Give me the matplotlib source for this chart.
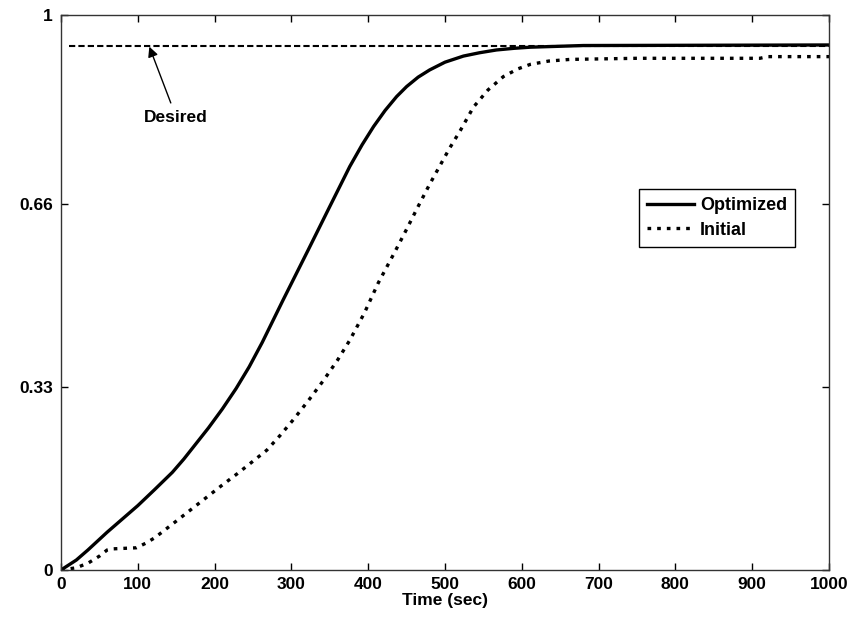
import matplotlib
matplotlib.use("Agg")
import matplotlib.pyplot as plt

plt.rcParams['font.family'] = ['Liberation Sans', 'DejaVu Sans']
plt.rcParams['font.weight'] = 'bold'

# Data
opt_t = [0, 20, 35, 60, 100, 122, 145, 160, 172, 192, 210, 228, 245, 262, 289,
         322, 350, 376, 392, 407, 422, 437, 450, 465, 480, 500, 524, 545, 567,
         590, 611, 680, 1000]
opt_v = [0, 0.018, 0.036, 0.068, 0.116, 0.145, 0.176, 0.200, 0.221, 0.256,
         0.290, 0.327, 0.366, 0.410, 0.486, 0.577, 0.655, 0.727, 0.766, 0.799,
         0.828, 0.853, 0.871, 0.888, 0.901, 0.915, 0.926, 0.932, 0.937, 0.940,
         0.942, 0.945, 0.946]

init_t = [0, 20, 36, 50, 60, 66, 98, 110, 122, 150, 185, 209, 230, 250, 268, 285,
          302, 322, 342, 360, 376, 395, 413, 435, 450, 465, 480, 506, 520, 537, 556,
          576, 595, 611, 635, 663, 750, 910, 920, 1000]
init_v = [0, 0.004, 0.013, 0.025, 0.036, 0.038, 0.040, 0.048, 0.058, 0.088, 0.126,
          0.152, 0.174, 0.196, 0.216, 0.242, 0.270, 0.305, 0.342, 0.378, 0.414,
          0.463, 0.517, 0.574, 0.614, 0.655, 0.695, 0.760, 0.792, 0.834, 0.865,
          0.889, 0.903, 0.911, 0.917, 0.920, 0.922, 0.922, 0.925, 0.925]

desired_t = [10, 1000]
desired_v = [0.944, 0.944]

xticks = [0, 100, 200, 300, 400, 500, 600, 700, 800, 900, 1000]
yticks = [0, 0.33, 0.66, 1]
ytick_labels = ['0', '0.33', '0.66', '1']

fig = plt.figure(figsize=(8.49, 6.19), dpi=100)
ax = fig.add_axes([61/849, 49/619, 768/849, 555/619])

ax.plot(desired_t, desired_v, color='black', lw=1.5, linestyle=(0, (3.0, 1.5)))
ax.plot(opt_t, opt_v, color='black', lw=2.4, label='Optimized',
        solid_joinstyle='round')
ax.plot(init_t, init_v, color='black', lw=2.4, linestyle=(0, (1.1, 1.8)),
        label='Initial')

ax.set_xlim(0, 1000)
ax.set_ylim(0, 1)
ax.set_xticks(xticks)
ax.set_xticklabels([str(v) for v in xticks])
ax.set_yticks(yticks)
ax.set_yticklabels(ytick_labels)
ax.tick_params(direction='in', length=5, width=1, top=True, right=True,
               labelsize=12.5, pad=6)
ax.tick_params(axis='x', pad=5)
for s in ax.spines.values():
    s.set_linewidth(1.0)
    s.set_color('#333333')

ax.set_xlabel('Time (sec)', fontsize=12.5, fontweight='bold', labelpad=1)

ax.annotate('Desired', xy=(115, 0.943), xytext=(150, 0.816),
            ha='center', va='center', fontsize=12.5, fontweight='bold',
            arrowprops=dict(arrowstyle='-|>', color='black', lw=1.0,
                            mutation_scale=15, shrinkA=3, shrinkB=0))

leg = ax.legend(loc='upper right', bbox_to_anchor=(0.956, 0.686),
                borderaxespad=0, fancybox=False, framealpha=1,
                edgecolor='black', fontsize=13, handlelength=2.6,
                handletextpad=0.35, borderpad=0.45, labelspacing=0.4)
leg.get_frame().set_linewidth(1.0)

fig.savefig('out.png', dpi=100)
